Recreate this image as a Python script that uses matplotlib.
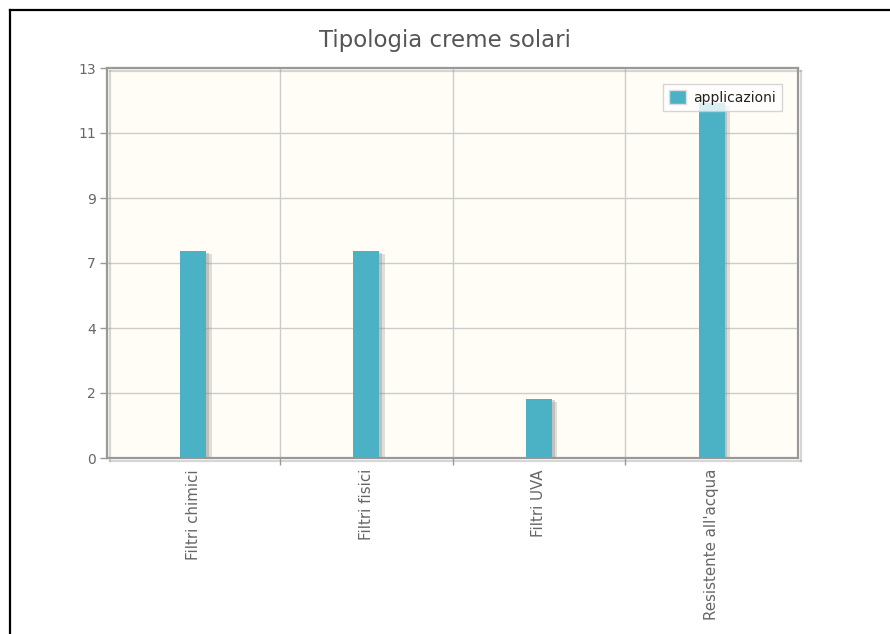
import numpy as np
import matplotlib
matplotlib.use("Agg")
import matplotlib.pyplot as plt
import matplotlib.patheffects as pe
from matplotlib.lines import Line2D

# --- Data ---
categories = ["Filtri chimici", "Filtri fisici", "Filtri UVA", "Resistente all'acqua"]
applicazioni = [7, 7, 2, 12]
series_name = "applicazioni"

# y axis: jqplot-style ticks, max 13.2 with labels rounded
y_max = 13.2
y_ticks = np.linspace(0, y_max, 7)
y_labels = [str(int(round(t))) for t in y_ticks]

bar_color = "#4bb2c5"
plot_bg = "#fffdf6"
grid_color = "#cccccc"
text_color = "#666666"

fig = plt.figure(figsize=(8.9, 6.34), dpi=100)
fig.patch.set_facecolor("white")

# black frame of the page (top and left edges)
fig.add_artist(Line2D([9.5 / 890, 1.0], [1 - 10 / 634, 1 - 10 / 634],
                      transform=fig.transFigure, color="black", lw=1.6))
fig.add_artist(Line2D([10 / 890, 10 / 890], [0, 1 - 10 / 634],
                      transform=fig.transFigure, color="black", lw=1.6))

ax = fig.add_axes([107 / 890, 1 - 458 / 634, 691 / 890, 390 / 634])
ax.set_facecolor(plot_bg)

x = np.arange(len(categories))
shadow = [pe.SimplePatchShadow(offset=(4, -2), shadow_rgbFace="#999999", alpha=0.3),
          pe.SimplePatchShadow(offset=(2, -1), shadow_rgbFace="#888888", alpha=0.35),
          pe.Normal()]
bars = ax.bar(x, applicazioni, width=0.15, color=bar_color, zorder=3,
              label=series_name, path_effects=shadow)

ax.set_xlim(-0.5, len(categories) - 0.5)
ax.set_ylim(0, y_max)

# grid: vertical lines between categories, horizontal at y ticks
for b in np.arange(0.5, len(categories) - 0.5, 1.0):
    ax.axvline(b, color=grid_color, lw=1, zorder=1)
for t in y_ticks[1:-1]:
    ax.axhline(t, color=grid_color, lw=1, zorder=1)

ax.set_yticks(y_ticks)
ax.set_yticklabels(y_labels, color=text_color, fontsize=10)
ax.set_xticks(x)
ax.set_xticklabels(categories, rotation=90, color=text_color, fontsize=10.8,
                   va="top")
ax.tick_params(axis="x", length=0, pad=8)
ax.tick_params(axis="y", length=5, color="#999999", width=1, pad=3)

# minor ticks at category boundaries on the x axis
ax.set_xticks(np.arange(0.5, len(categories) - 0.5, 1.0), minor=True)
ax.tick_params(axis="x", which="minor", length=5, color="#999999", width=1)

axis_shadow = [pe.SimpleLineShadow(offset=(2, -2), shadow_color="#999999", alpha=0.4),
               pe.Normal()]
for s in ax.spines.values():
    s.set_color("#999999")
    s.set_linewidth(1.6)
    s.set_path_effects(axis_shadow)

leg = ax.legend(loc="upper right", bbox_to_anchor=(0.977, 0.959), fontsize=10,
                frameon=True, fancybox=False, borderpad=0.45, handlelength=1.2,
                handleheight=1.2, handletextpad=0.5, borderaxespad=0)
leg.get_frame().set_edgecolor("#cccccc")
leg.get_frame().set_facecolor("white")
leg.get_frame().set_linewidth(1)
leg.set_zorder(5)
for h in leg.legend_handles:
    h.set_path_effects([pe.Normal()])
    h.set_edgecolor("#dddddd")
    h.set_linewidth(1)
for txt in leg.get_texts():
    txt.set_color("#222222")

fig.text(445 / 890, 1 - 40 / 634, "Tipologia creme solari", ha="center", va="center",
         fontsize=16.5, color="#555555")

fig.savefig("out.png", dpi=100, facecolor="white")
